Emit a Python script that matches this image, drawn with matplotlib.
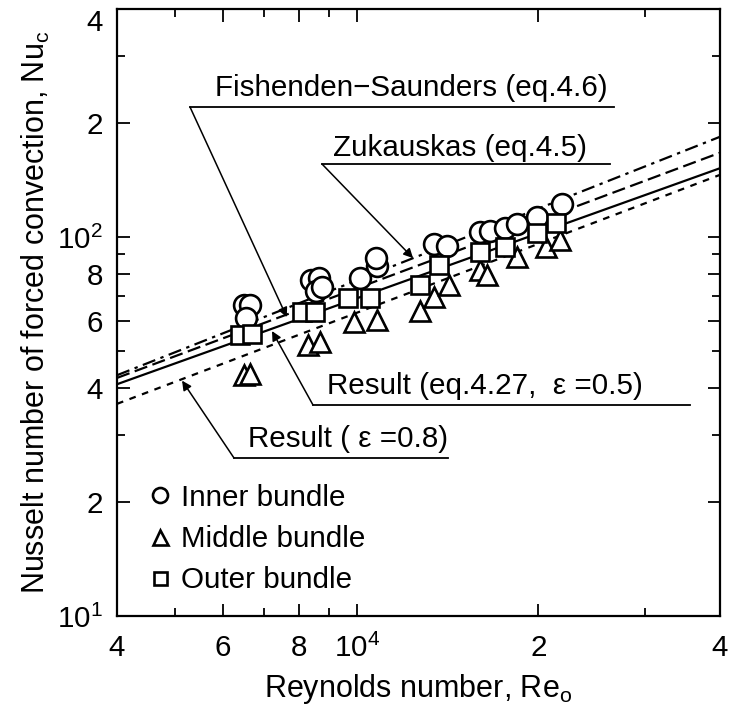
import matplotlib
matplotlib.use("Agg")
import matplotlib.pyplot as plt
from matplotlib.ticker import FixedLocator, FixedFormatter, NullFormatter

plt.rcParams['font.family'] = ['Liberation Sans', 'DejaVu Sans']
plt.rcParams['mathtext.fontset'] = 'custom'
plt.rcParams['mathtext.rm'] = 'Liberation Sans'
plt.rcParams['mathtext.it'] = 'Liberation Sans:italic'
plt.rcParams['mathtext.default'] = 'regular'

# ---- data ----
line_re = [4000, 40000]
zukauskas_nu = [43.2, 184]        # dash-dot (eq.4.5)
fishenden_nu = [42.5, 167]        # long dash (eq.4.6)
result05_nu = [40.9, 152]         # solid (eq.4.27, eps=0.5)
result08_nu = [36.3, 146]         # short dash (eps=0.8)

inner_re = [6500, 6650, 6550, 8400, 8650, 8550, 8750, 10100, 10800, 10750,
            13400, 14100, 16000, 16600, 17600, 18400, 19900, 21900]
inner_nu = [66, 66, 61, 77, 78, 72, 74, 78, 84, 88,
            96, 95, 103, 104, 106, 108, 113, 122]

middle_re = [6500, 6650, 8300, 8700, 9900, 10800, 12700, 13400, 14200,
             16000, 16400, 18400, 20600, 21700]
middle_nu = [43.2, 43.5, 52, 53, 59.7, 60.5, 64, 69.5, 74.7,
             81.8, 79.4, 88.5, 94, 98]

outer_re = [6400, 6700, 8110, 8520, 9660, 10500, 12700, 13700, 16000,
            17600, 19900, 21400]
outer_nu = [55, 55.5, 63.4, 63.5, 69, 69, 74.7, 84.4, 91.3,
            94.2, 102.5, 108.9]

x_ticks = [4000, 6000, 8000, 10000, 20000, 40000]
x_labels = ['4', '6', '8', r'$10^{4}$', '2', '4']
x_minor = [5000, 7000, 9000, 30000]
y_ticks = [10, 20, 40, 60, 80, 100, 200, 400]
y_labels = [r'$10^{1}$', '2', '4', '6', '8', r'$10^{2}$', '2', '4']
y_minor = [30, 50, 70, 90, 300]

FS = 21.3
LFS = 22

fig = plt.figure(figsize=(7.29, 7.09), dpi=100)
ax = fig.add_axes([117/729, 1 - 616/709, 603/729, 607/709])
ax.set_xscale('log')
ax.set_yscale('log')
ax.set_xlim(4000, 40000)
ax.set_ylim(10, 400)

lw = 1.6
ax.plot(line_re, zukauskas_nu, color='black', lw=lw, dashes=(6, 2.5, 1.5, 2.5), zorder=2)
ax.plot(line_re, fishenden_nu, color='black', lw=lw, dashes=(6, 2.5), zorder=2)
ax.plot(line_re, result05_nu, color='black', lw=lw, ls='-', zorder=2)
ax.plot(line_re, result08_nu, color='black', lw=lw, dashes=(3, 3), zorder=2)

mew = 1.9
h1, = ax.plot(inner_re, inner_nu, ls='none', marker='o', ms=15, mfc='white',
              mec='black', mew=mew, zorder=3, label='Inner bundle')
h2, = ax.plot(middle_re, middle_nu, ls='none', marker='^', ms=15, mfc='white',
              mec='black', mew=mew, zorder=4, label='Middle bundle')
h3, = ax.plot(outer_re, outer_nu, ls='none', marker='s', ms=13, mfc='white',
              mec='black', mew=mew, zorder=5, label='Outer bundle')

ax.xaxis.set_major_locator(FixedLocator(x_ticks))
ax.xaxis.set_major_formatter(FixedFormatter(x_labels))
ax.xaxis.set_minor_locator(FixedLocator(x_minor))
ax.xaxis.set_minor_formatter(NullFormatter())
ax.yaxis.set_major_locator(FixedLocator(y_ticks))
ax.yaxis.set_major_formatter(FixedFormatter(y_labels))
ax.yaxis.set_minor_locator(FixedLocator(y_minor))
ax.yaxis.set_minor_formatter(NullFormatter())
ax.tick_params(which='both', direction='in', top=True, right=True,
               labelsize=FS, width=1.3)
ax.tick_params(which='major', length=9)
ax.tick_params(which='minor', length=6)
ax.tick_params(axis='x', which='major', pad=13)
ax.tick_params(axis='y', which='major', pad=10)
for s in ax.spines.values():
    s.set_linewidth(1.6)

ax.set_xlabel(r'Reynolds number, Re$_{\mathrm{o}}$', fontsize=LFS, labelpad=6)
ax.set_ylabel(r'Nusselt number of forced convection, Nu$_{\mathrm{c}}$',
              fontsize=LFS, labelpad=4)

leg = ax.legend(handles=[h1, h2, h3], loc='lower left', frameon=False,
                fontsize=FS, markerscale=0.72, handlelength=0.7,
                handletextpad=0.35, labelspacing=0.45,
                bbox_to_anchor=(0.01, -0.008))

# ---- annotations (pixel layout -> axes fraction) ----
def af(px, py):
    return ((px - 117) / 603, (616 - py) / 607)

def label(text, tx, ty, ux0, ux1, uy, tip):
    ax.text(*af(tx, ty), text, transform=ax.transAxes, fontsize=FS,
            ha='left', va='baseline')
    ax.plot([af(ux0, uy)[0], af(ux1, uy)[0]], [af(ux0, uy)[1]] * 2,
            transform=ax.transAxes, color='black', lw=1.3, clip_on=False)
    ax.annotate('', xy=tip, xycoords='data', xytext=af(ux0, uy),
                textcoords='axes fraction',
                arrowprops=dict(arrowstyle='-|>', color='black', lw=1.1,
                                mutation_scale=14, shrinkA=0, shrinkB=0))

label('Fishenden\u2212Saunders (eq.4.6)', 215, 96, 190, 614, 107, (7650, 61.5))
label('Zukauskas (eq.4.5)', 333, 156, 322, 610, 164, (12390, 88))
label('Result (eq.4.27,  \u03b5 =0.5)', 327, 394, 313, 690, 405, (7230, 56.5))
label('Result ( \u03b5 =0.8)', 248, 447, 234, 448, 458, (5128, 41.8))

# keep the top y tick label inside the figure (it sits just below the top edge)
fig.canvas.draw()
top_tick = ax.yaxis.get_major_ticks()[-1]
top_tick.label1.set_verticalalignment('top')

fig.savefig('out.png', dpi=100)
